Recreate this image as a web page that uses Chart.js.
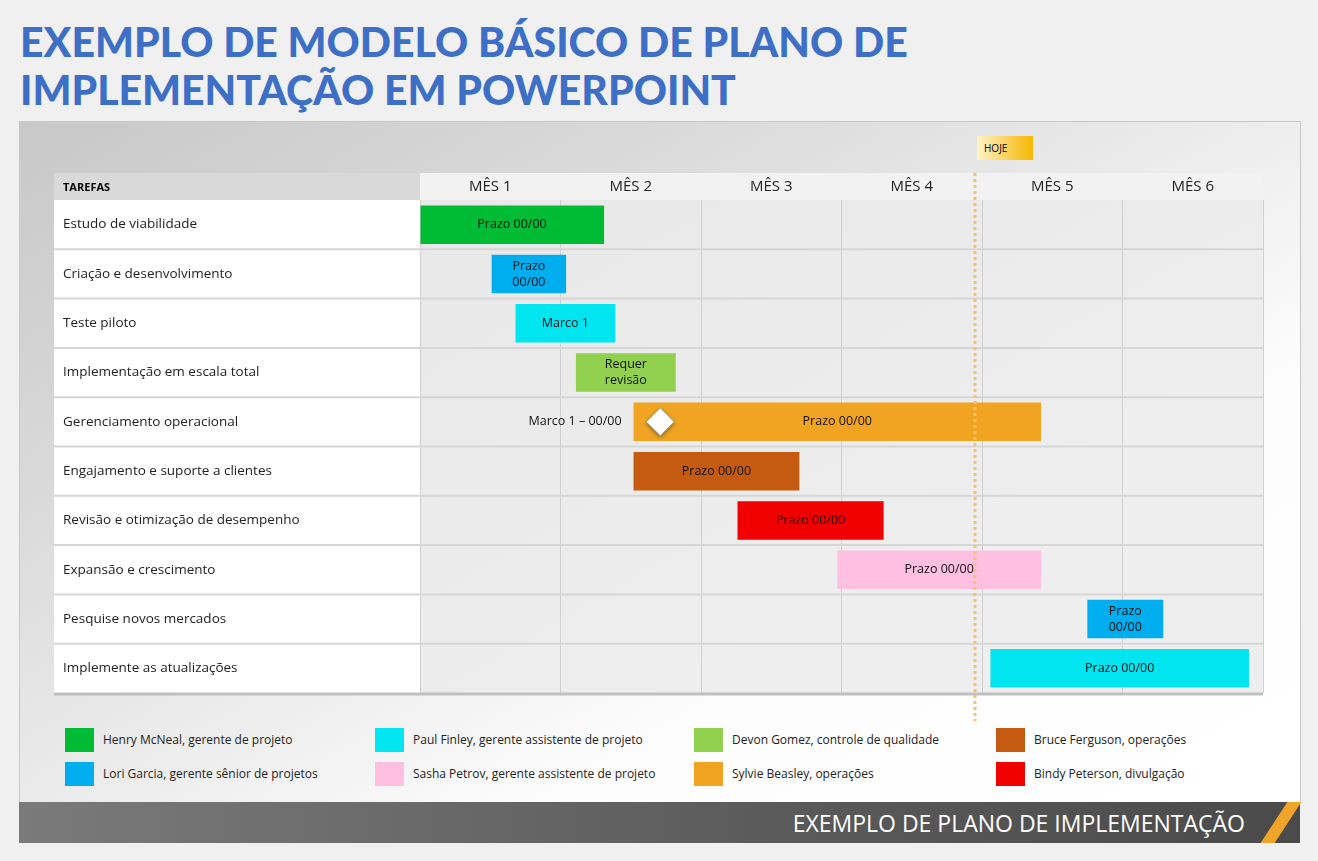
<!DOCTYPE html>
<html><head><meta charset="utf-8">
<script src="https://cdn.jsdelivr.net/npm/chart.js@4"></script>
<style>
body{margin:0;width:1318px;height:861px;background:#f0f0f0;font-family:"Open Sans",Lato,sans-serif;position:relative;overflow:hidden}
#title{position:absolute;left:20px;top:18px;color:#3d6fc7;font:900 41px Lato,sans-serif;line-height:48px;letter-spacing:0px}
#panel{position:absolute;left:19px;top:121px;width:1280px;height:680px;background:linear-gradient(150deg,#c8c8c8 0%,#d8d8d8 25%,#ececec 50%,#fdfdfd 70%,#ffffff 100%);border:1px solid #c8c8c8}
#chartwrap{position:absolute;left:54px;top:173px;width:1213px;height:550px}
#footer{position:absolute;left:19px;top:802px;width:1281px;height:41px;background:linear-gradient(90deg,#7a7a7a,#5a5a5a 60%,#4a4a4a)}
#footer span{position:absolute;right:55px;top:5px;color:#fff;font:400 23px "Open Sans",sans-serif}
#footer i{position:absolute;right:12px;top:0;width:14px;height:41px;background:#f0a52a;transform:skewX(-33deg)}
.lg{position:absolute;font-size:12px;color:#222;line-height:24px}
.lg b{position:absolute;left:-38px;top:0;width:29px;height:24px}
#hoje{position:absolute;left:977px;top:136px;width:56px;height:24px;background:linear-gradient(90deg,#fff3c8,#f5b700);font:10px "Open Sans";line-height:24px;padding-left:7px;box-sizing:border-box}
</style></head><body>
<div id="title">EXEMPLO DE MODELO BÁSICO DE PLANO DE<br>IMPLEMENTAÇÃO EM POWERPOINT</div>
<div id="panel"></div>
<div id="hoje">HOJE</div>
<div id="chartwrap"><canvas id="c"></canvas></div>
<div id="legend"></div>
<div id="footer"><span>EXEMPLO DE PLANO DE IMPLEMENTAÇÃO</span><i></i></div>
<script>
const tasks=["Estudo de viabilidade","Criação e desenvolvimento","Teste piloto","Implementação em escala total","Gerenciamento operacional","Engajamento e suporte a clientes","Revisão e otimização de desempenho","Expansão e crescimento","Pesquise novos mercados","Implemente as atualizações"];
const months=["MÊS 1","MÊS 2","MÊS 3","MÊS 4","MÊS 5","MÊS 6"];
const starts=[0,0.51,0.68,1.11,1.52,1.52,2.26,2.97,4.75,4.06];
const ends=[1.31,1.04,1.39,1.82,4.42,2.70,3.30,4.42,5.29,5.90];
const barLabels=["Prazo 00/00","Prazo\n00/00","Marco 1","Requer\nrevisão","Prazo 00/00","Prazo 00/00","Prazo 00/00","Prazo 00/00","Prazo\n00/00","Prazo 00/00"];
const colors=["#00bc35","#00aeef","#00e5ef","#92d050","#f0a421","#c55a11","#f00000","#ffbfe0","#00aeef","#00e5ef"];
const milestone=1.71, milestoneTask=4, milestoneText="Marco 1 – 00/00";
const today=3.95;
const legendNames=["Henry McNeal, gerente de projeto","Paul Finley, gerente assistente de projeto","Devon Gomez, controle de qualidade","Bruce Ferguson, operações","Lori Garcia, gerente sênior de projetos","Sasha Petrov, gerente assistente de projeto","Sylvie Beasley, operações","Bindy Peterson, divulgação"];
const legendColors=["#00bc35","#00e5ef","#92d050","#c55a11","#00aeef","#ffbfe0","#f0a421","#f00000"];

const lx=[103,413,732,1034],ly=[728,762];
legendNames.forEach((n,i)=>{const d=document.createElement('div');d.className='lg';d.style.left=lx[i%4]+'px';d.style.top=ly[Math.floor(i/4)]+'px';d.innerHTML='<b style="background:'+legendColors[i]+'"></b>'+n;document.body.appendChild(d);});

const deco={id:'deco',
beforeDraw(ch){const {ctx,chartArea:a}=ch;
 ctx.save();
 ctx.fillStyle='rgba(235,235,235,0.85)';ctx.fillRect(a.left,a.top,a.right-a.left,a.bottom-a.top);
 ctx.fillStyle='#fff';ctx.fillRect(0,a.top,a.left,a.bottom-a.top);
 ctx.fillStyle='#d9d9d9';ctx.fillRect(0,0,a.left,a.top);
 ctx.fillStyle='#f2f2f2';ctx.fillRect(a.left,0,a.right-a.left,a.top);
 ctx.fillStyle='#000';ctx.font='bold 11px "Open Sans"';ctx.textBaseline='middle';ctx.fillText('TAREFAS',9,a.top/2+1);
 ctx.restore();},
beforeDatasetsDraw(ch){const {ctx,chartArea:a,scales:{y}}=ch;ctx.save();
 ctx.strokeStyle='#d6d6d6';ctx.lineWidth=2;
 for(let i=1;i<tasks.length;i++){const yy=(y.getPixelForValue(i-1)+y.getPixelForValue(i))/2;ctx.beginPath();ctx.moveTo(0,yy);ctx.lineTo(a.right,yy);ctx.stroke();}
 ctx.strokeStyle='#c0c0c0';ctx.lineWidth=3;ctx.beginPath();ctx.moveTo(0,a.bottom+1);ctx.lineTo(a.right,a.bottom+1);ctx.stroke();
 ctx.restore();},
afterDatasetsDraw(ch){const {ctx,chartArea:a,scales:{x,y}}=ch;ctx.save();
 ctx.font='12.5px "Open Sans"';ctx.fillStyle='#111';ctx.textAlign='center';ctx.textBaseline='middle';
 barLabels.forEach((t,i)=>{const cx=(x.getPixelForValue(starts[i])+x.getPixelForValue(ends[i]))/2,cy=y.getPixelForValue(i);const ls=t.split('\n');ls.forEach((l,k)=>ctx.fillText(l,cx,cy+(k-(ls.length-1)/2)*16));});
 const mx=x.getPixelForValue(milestone),my=y.getPixelForValue(milestoneTask);
 ctx.textAlign='right';ctx.fillText(milestoneText,x.getPixelForValue(starts[milestoneTask])-12,my);
 ctx.shadowColor='rgba(0,0,0,0.4)';ctx.shadowBlur=4;ctx.shadowOffsetY=2;
 ctx.beginPath();ctx.moveTo(mx,my-14);ctx.lineTo(mx+14,my);ctx.lineTo(mx,my+14);ctx.lineTo(mx-14,my);ctx.closePath();ctx.fillStyle='#fff';ctx.fill();
 ctx.shadowColor='transparent';ctx.strokeStyle='#999';ctx.lineWidth=1;ctx.stroke();
 const tx=x.getPixelForValue(today);ctx.strokeStyle='#f5c26b';ctx.lineWidth=3;ctx.setLineDash([3,3]);
 ctx.beginPath();ctx.moveTo(tx,0);ctx.lineTo(tx,a.bottom+28);ctx.stroke();
 ctx.restore();}};

new Chart(document.getElementById('c'),{type:'bar',
data:{labels:tasks,datasets:[{data:starts.map((s,i)=>[s,ends[i]]),backgroundColor:colors,barPercentage:0.78,categoryPercentage:1,borderSkipped:false}]},
options:{indexAxis:'y',responsive:true,maintainAspectRatio:false,animation:false,
 layout:{padding:{left:9,right:0,top:0,bottom:30}},
 plugins:{legend:{display:false},tooltip:{enabled:false}},
 scales:{
  x:{type:'linear',position:'top',min:0,max:6,
   afterFit(s){s.height=27;},
   ticks:{stepSize:0.5,autoSkip:false,color:'#222',font:{size:15,family:'"Open Sans"'},padding:4,
    callback:v=>(v%1===0.5)?months[Math.floor(v)]:''},
   grid:{color:c=>(c.tick&&c.tick.value%1===0)?'#d0d0d0':'transparent',lineWidth:1,drawTicks:false},border:{display:false}},
  y:{afterFit(s){s.width=357;},
   ticks:{crossAlign:'far',color:'#222',font:{size:13.5,family:'"Open Sans"'},padding:9},
   grid:{display:false},border:{display:false}}
 }},plugins:[deco]});
</script></body></html>
